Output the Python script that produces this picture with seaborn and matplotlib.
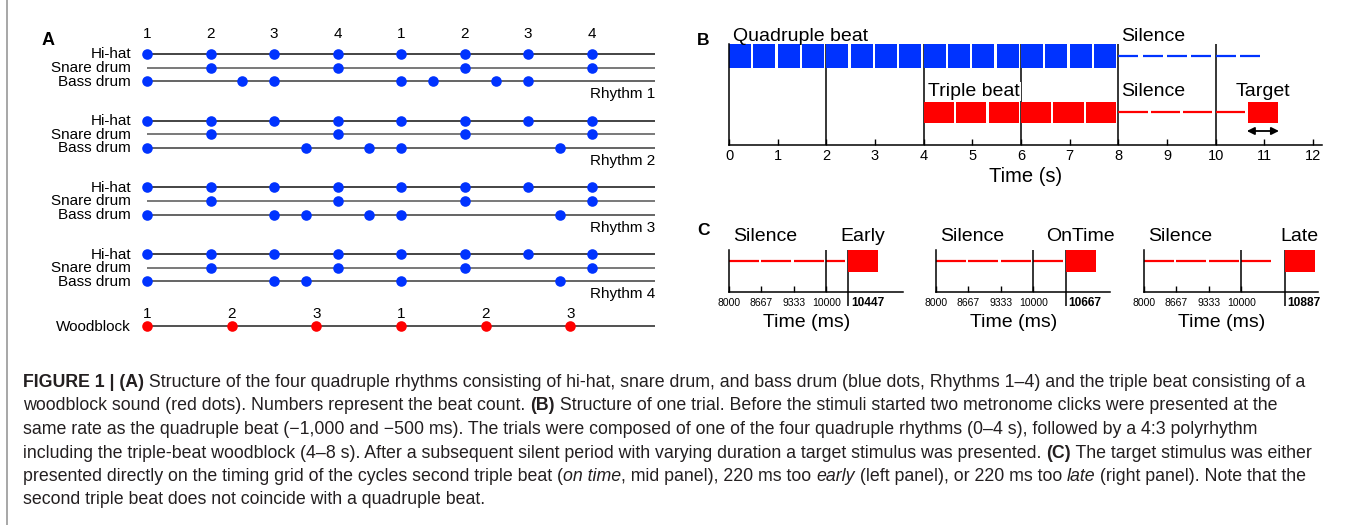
import numpy as np
import pandas as pd
import matplotlib
matplotlib.use('Agg')
import matplotlib.pyplot as plt
from matplotlib.lines import Line2D
from matplotlib import font_manager
import seaborn as sns

# ------------------------------------------------------------------ data
# Panel A (times in seconds, one quadruple beat = 0.5 s)
beat_labels = ['1', '2', '3', '4', '1', '2', '3', '4']
quad_beats = [0.0, 0.5, 1.0, 1.5, 2.0, 2.5, 3.0, 3.5]
hihat = [0.0, 0.5, 1.0, 1.5, 2.0, 2.5, 3.0, 3.5]
snare = [0.5, 1.5, 2.5, 3.5]
bass_r1 = [0.0, 0.75, 1.0, 2.0, 2.25, 2.75, 3.0]
bass_r2 = [0.0, 1.25, 1.75, 2.0, 3.25]
bass_r3 = [0.0, 1.0, 1.25, 1.75, 2.0, 3.25]
bass_r4 = [0.0, 1.0, 1.25, 2.0, 3.25]
woodblock = [0.0, 0.667, 1.333, 2.0, 2.667, 3.333]
woodblock_labels = ['1', '2', '3', '1', '2', '3']
rhythm_names = ['Rhythm 1', 'Rhythm 2', 'Rhythm 3', 'Rhythm 4']
instruments = ['Hi-hat', 'Snare drum', 'Bass drum']
pattern_end = 4.0

# Panel B (seconds)
quad_onsets = [0.0, 0.5, 1.0, 1.5, 2.0, 2.5, 3.0, 3.5,
               4.0, 4.5, 5.0, 5.5, 6.0, 6.5, 7.0, 7.5]
quad_silence = [8.0, 8.5, 9.0, 9.5, 10.0, 10.5]
triple_onsets = [4.0, 4.667, 5.333, 6.0, 6.667, 7.333]
triple_silence = [8.0, 8.667, 9.333, 10.0]
target_b = 10.667
target_range_b = [10.64, 11.30]
b_gridlines = [2, 4, 6, 8, 10]
b_ticks = [0, 1, 2, 3, 4, 5, 6, 7, 8, 9, 10, 11, 12]

# Panel C (milliseconds)
c_conditions = ['Early', 'OnTime', 'Late']
c_targets = [10447, 10667, 10887]
c_silence = [8000, 8667, 9333, 10000]
c_ticks = [8000, 8667, 9333, 10000]
c_gridline = 10000

caption_lines = [
    [("FIGURE 1 | (A)", 'b'), (" Structure of the four quadruple rhythms consisting of hi-hat, snare drum, and bass drum (blue dots, Rhythms 1\u20134) and the triple beat consisting of a", 'n')],
    [("woodblock sound (red dots). Numbers represent the beat count. ", 'n'), ("(B)", 'b'), (" Structure of one trial. Before the stimuli started two metronome clicks were presented at the", 'n')],
    [("same rate as the quadruple beat (\u22121,000 and \u2212500 ms). The trials were composed of one of the four quadruple rhythms (0\u20134 s), followed by a 4:3 polyrhythm", 'n')],
    [("including the triple-beat woodblock (4\u20138 s). After a subsequent silent period with varying duration a target stimulus was presented. ", 'n'), ("(C)", 'b'), (" The target stimulus was either", 'n')],
    [("presented directly on the timing grid of the cycles second triple beat (", 'n'), ("on time", 'i'), (", mid panel), 220 ms too ", 'n'), ("early", 'i'), (" (left panel), or 220 ms too ", 'n'), ("late", 'i'), (" (right panel). Note that the", 'n')],
    [("second triple beat does not coincide with a quadruple beat.", 'n')],
]

# ------------------------------------------------------------------ style
W, H, DPI = 1355, 525, 100
BLUE = '#0033FF'
RED = '#FF0000'
sns.set_theme(style='white')
plt.rcParams['font.family'] = ['Liberation Sans', 'DejaVu Sans']
plt.rcParams['axes.linewidth'] = 1.1
plt.rcParams['text.color'] = 'black'

FS_A = 11
FS_B = 14
FS_TICK_B = 10.5
FS_TICK_C = 7.5
DOT = 58

fig = plt.figure(figsize=(W / DPI, H / DPI), dpi=DPI)
fig.patch.set_facecolor('white')


def px_axes(x0, y0, x1, y1):
    ax = fig.add_axes([x0 / W, 1 - y1 / H, (x1 - x0) / W, (y1 - y0) / H])
    ax.set_facecolor('none')
    return ax


def ftext(x, y, s, **kw):
    kw.setdefault('va', 'baseline')
    return fig.text(x / W, 1 - y / H, s, **kw)


# left border line
fig.add_artist(Line2D([7 / W, 7 / W], [0, 1], color='#a0a0a0', lw=1.3,
                      transform=fig.transFigure))

# ------------------------------------------------------------------ panel A
axA = px_axes(147, 20, 655, 340)
ftext(42, 45, 'A', fontsize=13, weight='bold')
group_y = [54.0, 120.7, 187.4, 254.1]
inst_off = [0.0, 13.5, 27.2]
line_cols = ['#111111', '#555555', '#3a3a3a']
rows = []
for g, bass in enumerate([bass_r1, bass_r2, bass_r3, bass_r4]):
    for k, times in enumerate([hihat, snare, bass]):
        y = group_y[g] + inst_off[k]
        axA.hlines(y, 0, pattern_end, color=line_cols[k], lw=1.1, zorder=1)
        ftext(131, y + 4.5, instruments[k], ha='right', fontsize=FS_A)
        rows += [(t, y) for t in times]
    ftext(655, group_y[g] + inst_off[2] + 17, rhythm_names[g], ha='right',
          fontsize=FS_A)
dfA = pd.DataFrame(rows, columns=['time', 'y'])
sns.scatterplot(data=dfA, x='time', y='y', ax=axA, color=BLUE, s=DOT,
                linewidth=0, legend=False, clip_on=False, zorder=3)
for t, lab in zip(quad_beats, beat_labels):
    axA.text(t, 37.5, lab, ha='center', va='baseline', fontsize=FS_A)

wood_y = 326.0
axA.hlines(wood_y, 0, pattern_end, color='#222222', lw=1.1, zorder=1)
dfW = pd.DataFrame({'time': woodblock, 'y': [wood_y] * len(woodblock)})
sns.scatterplot(data=dfW, x='time', y='y', ax=axA, color=RED, s=DOT,
                linewidth=0, legend=False, clip_on=False, zorder=3)
for t, lab in zip(woodblock, woodblock_labels):
    axA.text(t, wood_y - 8, lab, ha='center', va='baseline', fontsize=FS_A)
ftext(131, wood_y + 5, 'Woodblock', ha='right', fontsize=FS_A)
axA.set_xlim(0, pattern_end)
axA.set_ylim(340, 20)
axA.axis('off')

# ------------------------------------------------------------------ panel B
B_L, B_R, B_T, B_B = 729, 1322, 44, 145
axB = px_axes(B_L, B_T, B_R, B_B)
px_per_s = 48.67
axB.set_xlim(0, (B_R - B_L) / px_per_s)
axB.set_ylim(B_B, B_T)
axB.bar(quad_onsets, height=24, bottom=44, width=0.455, align='edge',
        color=BLUE, linewidth=0, zorder=2)
axB.hlines([56] * len(quad_silence), quad_silence,
           np.array(quad_silence) + 0.41, color=BLUE, lw=1.6)
axB.bar(triple_onsets, height=21, bottom=102, width=0.62, align='edge',
        color=RED, linewidth=0, zorder=2)
axB.hlines([112] * len(triple_silence), triple_silence,
           np.array(triple_silence) + 0.6, color=RED, lw=1.6)
axB.bar([target_b], height=21, bottom=102, width=0.62, align='edge',
        color=RED, linewidth=0, zorder=2)
axB.vlines(b_gridlines, B_B, B_T, color='black', lw=1.1, zorder=1)
axB.annotate('', xy=(target_range_b[0], 131), xytext=(target_range_b[1], 131),
             arrowprops=dict(arrowstyle='<|-|>', color='black', lw=1.3,
                             mutation_scale=11, shrinkA=0, shrinkB=0))
axB.set_xticks(b_ticks)
axB.set_xticklabels([str(t) for t in b_ticks])
axB.set_yticks([])
axB.tick_params(axis='x', direction='in', length=4, width=1.0,
                labelsize=FS_TICK_B, pad=3, bottom=True, colors='black')
for s in ['top', 'right']:
    axB.spines[s].set_visible(False)
for s in ['left', 'bottom']:
    axB.spines[s].set_color('black')
axB.set_xlabel('Time (s)', fontsize=FS_B + 0.5, labelpad=3, color='black')
ftext(697, 45, 'B', fontsize=12.5, weight='bold')
ftext(733, 41, 'Quadruple beat', fontsize=FS_B)
ftext(1121, 41, 'Silence', fontsize=FS_B)
ftext(928, 96, 'Triple beat', fontsize=FS_B,
      bbox=dict(facecolor='white', edgecolor='none', pad=1.0))
ftext(1121, 96, 'Silence', fontsize=FS_B)
ftext(1263, 96, 'Target', fontsize=FS_B, ha='center')

# ------------------------------------------------------------------ panel C
ftext(697, 235, 'C', fontsize=12.5, weight='bold')
C_lefts = [729, 936, 1144]
C_T, C_B, C_W = 250, 292, 174
for i, (cond, tgt) in enumerate(zip(c_conditions, c_targets)):
    L = C_lefts[i]
    ax = px_axes(L, C_T, L + C_W, C_B)
    ax.set_xlim(8000, 8000 + C_W / px_per_s * 1000)
    ax.set_ylim(C_B, C_T)
    starts = np.array(c_silence, dtype=float)
    ends = np.minimum(starts + 610, tgt - 65)
    ax.hlines([261] * len(starts), starts, ends, color=RED, lw=1.6)
    ax.vlines([c_gridline], C_B, C_T, color='black', lw=1.1)
    ax.vlines([tgt], C_T, 306, color='black', lw=1.1, clip_on=False)
    ax.bar([tgt], height=22, bottom=C_T, width=620, align='edge', color=RED,
           linewidth=0, zorder=3)
    ax.set_xticks(c_ticks)
    ax.set_xticklabels([str(t) for t in c_ticks])
    ax.set_yticks([])
    ax.tick_params(axis='x', direction='in', length=4, width=1.0,
                   labelsize=FS_TICK_C, pad=4, bottom=True, colors='black')
    for s in ['top', 'right']:
        ax.spines[s].set_visible(False)
    for s in ['left', 'bottom']:
        ax.spines[s].set_color('black')
    ax.text(tgt + 60, 306, str(tgt), fontsize=8.6, weight='bold',
            ha='left', va='baseline')
    ftext(L + 4, 241, 'Silence', fontsize=FS_B)
    ax.text(tgt + 310, 241, cond, fontsize=FS_B, ha='center', va='baseline')
    ftext(L + 78, 327, 'Time (ms)', fontsize=FS_B, ha='center')

# ------------------------------------------------------------------ caption
names = {f.name for f in font_manager.fontManager.ttflist}
cap_family = 'Liberation Sans Narrow' if 'Liberation Sans Narrow' in names else 'Liberation Sans'
cap_color = '#231f20'
fig.canvas.draw()
renderer = fig.canvas.get_renderer()


def text_width(s, size, weight='normal', style='normal'):
    t = fig.text(0, 0, '|' + s + '|', fontsize=size, family=cap_family,
                 weight=weight, style=style)
    w1 = t.get_window_extent(renderer).width
    t.set_text('||')
    w0 = t.get_window_extent(renderer).width
    t.remove()
    return w1 - w0


def run_kw(st):
    return dict(weight='bold' if st == 'b' else 'normal',
                style='italic' if st == 'i' else 'normal')


base = 10.0
w_line1 = sum(text_width(s, base, **run_kw(st)) for s, st in caption_lines[0])
cap_size = base * (1334 - 23) / w_line1 * 0.985
cap_base = [387, 410.5, 434, 457.5, 481, 504.5]
for line, yb in zip(caption_lines, cap_base):
    x = 23.0
    for s, st in line:
        ftext(x, yb, s, fontsize=cap_size, family=cap_family, color=cap_color,
              ha='left', **run_kw(st))
        x += text_width(s, cap_size, **run_kw(st))

fig.savefig('out.png', dpi=DPI, facecolor='white')
